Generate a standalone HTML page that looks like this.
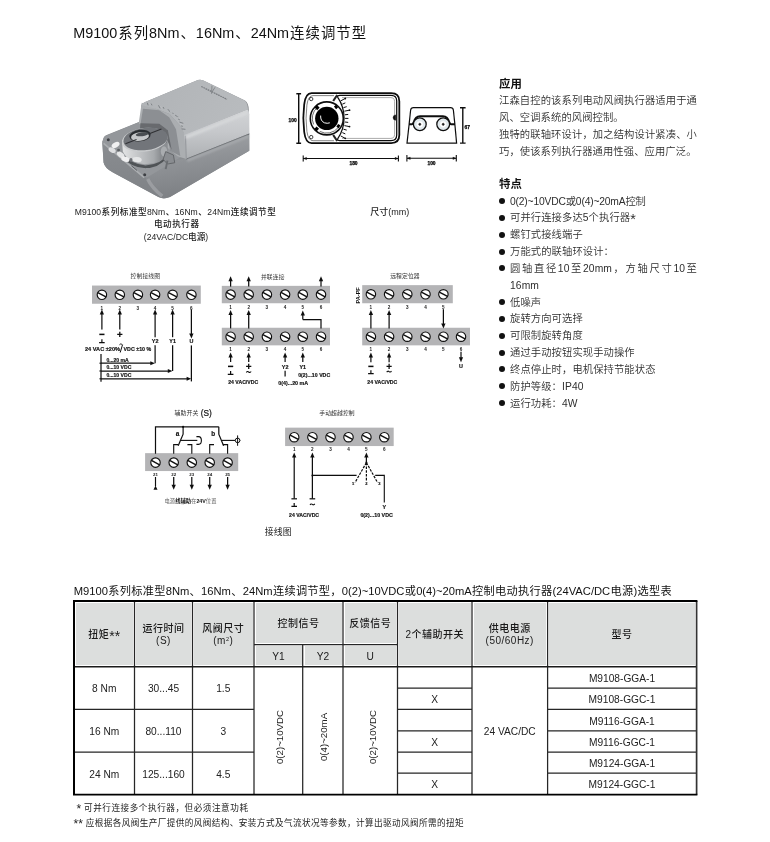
<!DOCTYPE html>
<html lang="zh-CN">
<head>
<meta charset="utf-8">
<title>M9100系列8Nm、16Nm、24Nm连续调节型</title>
<style>
html,body{margin:0;padding:0;background:#fff;}
body{width:770px;height:842px;position:relative;overflow:hidden;opacity:.999;
 font-family:"Liberation Sans","Noto Sans CJK SC",sans-serif;color:#1a1a1a;}
.abs{position:absolute;white-space:nowrap;}
.title{left:73.2px;top:22.6px;width:293px;font-size:14.4px;line-height:20px;font-weight:400;color:#111;text-align:justify;text-align-last:justify;}
.cap{font-size:8.6px;line-height:12.6px;text-align:center;font-weight:500;color:#222;}
.h{font-size:11.4px;font-weight:700;line-height:14px;color:#111;}
.p{font-size:10.3px;line-height:17px;color:#2e2e2e;letter-spacing:.1px;font-weight:350;}
.li{font-size:10.3px;line-height:17px;color:#2e2e2e;letter-spacing:.1px;font-weight:350;}
.li:before{content:"";position:absolute;left:-11.2px;top:5.5px;width:6px;height:6px;border-radius:50%;background:#111;}
/* table */
.tt{left:73.7px;top:582.6px;width:598px;font-size:11.2px;line-height:16px;color:#111;font-weight:400;text-align:justify;text-align-last:justify;}
.fn{font-size:8.6px;line-height:12px;color:#222;text-align:justify;text-align-last:justify;}

.hf{background:#dcdedd;}
.th,.td{display:flex;align-items:center;justify-content:center;text-align:center;white-space:nowrap;box-sizing:border-box;padding-top:3px;}
.th{font-size:10px;line-height:12px;font-weight:500;color:#1a1a1a;letter-spacing:.5px;}
.th.n{font-weight:400;font-size:10.2px;letter-spacing:0;}
.td{font-size:10.2px;line-height:12px;color:#222;}
.th sup{font-size:5.5px;line-height:0;vertical-align:3.2px;}
.rot{display:inline-block;position:relative;transform:rotate(-90deg);white-space:nowrap;letter-spacing:0;font-size:9.7px;}
.cj{font-size:1.4em;line-height:0;vertical-align:-.2em;letter-spacing:0;}
.p,.li{margin-top:.6px;}
</style>
</head>
<body>
<div class="abs title">M9100系列8Nm、16Nm、24Nm连续调节型</div>

<div class="abs cap" style="left:74.8px;width:201px;top:206px;text-align:justify;text-align-last:justify">M9100系列标准型8Nm、16Nm、24Nm连续调节型</div>
<div class="abs cap" style="left:126.8px;width:100px;top:217.8px;letter-spacing:.55px">电动执行器</div>
<div class="abs cap" style="left:126px;width:100px;top:231.1px">(24VAC/DC电源)</div>
<div class="abs cap" style="left:339.8px;width:100px;top:205.7px;font-size:9px">尺寸(mm)</div>
<div class="abs cap" style="left:228.2px;width:100px;top:525.7px;font-weight:400;font-size:8.9px;letter-spacing:.1px;color:#222">接线图</div>
<!-- product photo -->
<svg class="abs" style="left:95px;top:65px" width="165" height="140" viewBox="0 0 770 653">
<defs>
<filter id="pb" x="-5%" y="-5%" width="110%" height="110%"><feGaussianBlur stdDeviation="2.6"/></filter>
<filter id="pb2" x="-10%" y="-10%" width="120%" height="120%"><feGaussianBlur stdDeviation="5"/></filter>
<linearGradient id="gTop" x1="0" y1="0" x2="1" y2=".3"><stop offset="0" stop-color="#b0b3b6"/><stop offset="1" stop-color="#b8bbbe"/></linearGradient>
<linearGradient id="gCR" x1="0" y1="0" x2="0" y2="1"><stop offset="0" stop-color="#d2d4d6"/><stop offset=".45" stop-color="#c6c8cb"/><stop offset="1" stop-color="#adb0b3"/></linearGradient>
<linearGradient id="gBR" x1="0" y1="0" x2=".25" y2="1"><stop offset="0" stop-color="#a6a9ac"/><stop offset=".5" stop-color="#8f9296"/><stop offset="1" stop-color="#7d8084"/></linearGradient>
<linearGradient id="gBL" x1="0" y1="0" x2="0" y2="1"><stop offset="0" stop-color="#8a8d91"/><stop offset="1" stop-color="#7f8286"/></linearGradient>
<linearGradient id="gWall" x1="0" y1="0" x2="1" y2="0"><stop offset="0" stop-color="#e3e4e5"/><stop offset=".35" stop-color="#c4c6c8"/><stop offset=".7" stop-color="#a7aaad"/><stop offset="1" stop-color="#6f7276"/></linearGradient>
</defs>
<g filter="url(#pb)">
<!-- silhouette backing -->
<path d="M40 340 Q42 330 60 324 L214 262 L216 188 Q218 178 234 172 L480 70 Q492 66 506 72 L700 166 Q718 178 718 212 L720 400 L350 616 Q322 628 296 616 L82 500 Q46 482 40 455 L34 366 Z" fill="#8b8e92"/>
<!-- base left/front face -->
<path d="M34 352 L40 455 Q46 482 82 500 L296 616 Q318 626 334 620 Q270 575 236 524 Z" fill="url(#gBL)"/>
<!-- base right-front face -->
<path d="M236 524 L385 442 L424 438 L720 320 L720 400 L350 616 Q325 626 305 610 Q250 566 236 524Z" fill="url(#gBR)"/>
<!-- front corner light band -->
<path d="M246 532 Q264 572 314 612" stroke="#a0a3a6" stroke-width="16" fill="none" opacity=".8"/>
<!-- base top face -->
<path d="M36 352 Q38 334 60 326 L215 262 L400 430 L250 520 Q235 528 222 518 L44 372 Q34 364 36 352Z" fill="#94979b"/>
<path d="M40 366 L230 525" stroke="#abaeb1" stroke-width="8" fill="none"/>
<!-- cover left side (chamfer band) -->
<path d="M218 176 L204 272 L385 426 L426 438 L420 328 L402 288 L348 228 L292 206 L240 182Z" fill="#abaeb1"/>
<!-- arch interior -->
<path d="M224 204 L300 211 L346 244 L378 300 L398 424 L350 400 L335 300 L210 290 Z" fill="#8c8f93"/>
<path d="M212 272 L300 274 L340 304 L358 396 L330 336 L210 300Z" fill="#676a6e"/>
<!-- cover right face -->
<path d="M416 324 L712 206 Q720 214 720 230 L720 320 L426 438 Z" fill="url(#gCR)"/>
<!-- cover top -->
<path d="M216 186 Q218 178 234 172 L480 70 Q492 66 506 72 L696 164 Q712 174 714 206 L418 326 L402 288 L348 228 L292 206 Z" fill="url(#gTop)"/>
<!-- junction dark line -->
<path d="M426 439 L720 322" stroke="#5e6165" stroke-width="4.5" fill="none"/>
<path d="M422 330 L426 436" stroke="#999ca0" stroke-width="6" fill="none"/>
<g transform="translate(0 11)">
<!-- coupling body wall -->
<path d="M126 340 L130 392 Q150 440 232 452 Q318 448 336 396 L338 330Z" fill="url(#gWall)"/>
<path d="M132 404 Q170 452 236 458 Q312 452 336 404 L336 420 Q300 470 230 470 Q160 462 134 420Z" fill="#4f5256"/>
<!-- right boss -->
<path d="M300 360 L338 350 L340 410 L306 432Z" fill="#8b8e92"/>
<ellipse cx="322" cy="392" rx="15" ry="24" fill="#a9acaf"/>
<!-- ring top -->
<ellipse cx="232" cy="338" rx="107" ry="55" transform="rotate(-7 232 338)" fill="#c9cbcd"/>
<ellipse cx="236" cy="334" rx="104" ry="52" transform="rotate(-7 236 334)" fill="#72757a"/>
<g transform="translate(-2 -10)">
<!-- hole -->
<ellipse cx="212" cy="328" rx="50" ry="27" transform="rotate(-7 212 328)" fill="#2c2e31"/>
<ellipse cx="212" cy="333" rx="42" ry="20" transform="rotate(-7 212 333)" fill="#c4c6c8"/>
<ellipse cx="222" cy="322" rx="30" ry="9" transform="rotate(-7 222 322)" fill="#4a4d51"/>
<!-- slits -->
<path d="M144 366 L196 346" stroke="#2f3134" stroke-width="5"/>
<path d="M258 318 L312 298" stroke="#2f3134" stroke-width="5"/>
</g>
<!-- bolts highlights -->
<ellipse cx="96" cy="362" rx="20" ry="12" transform="rotate(-30 96 362)" fill="#f0f0f1"/>
<ellipse cx="80" cy="386" rx="18" ry="11" transform="rotate(30 80 386)" fill="#dedfe1"/>
<ellipse cx="120" cy="408" rx="20" ry="12" transform="rotate(35 120 408)" fill="#e6e7e8"/>
<ellipse cx="142" cy="428" rx="20" ry="12" transform="rotate(20 142 428)" fill="#f0f0f1"/>
<ellipse cx="196" cy="430" rx="22" ry="12" transform="rotate(5 196 430)" fill="#e4e5e6"/>
<ellipse cx="110" cy="386" rx="7" ry="6" fill="#5d6064"/>
<ellipse cx="168" cy="432" rx="7" ry="9" fill="#6d7074"/>
</g>
<!-- lever -->
<path d="M330 404 L366 420 L372 456 L338 462 L318 440Z" fill="#8a8d91" stroke="#5d6064" stroke-width="4"/>
<path d="M338 446 L330 486" stroke="#6a6d71" stroke-width="9"/>
<!-- base details -->
<path d="M170 470 L196 492 M214 468 L236 480" stroke="#4f5256" stroke-width="4"/>
</g>
<g filter="url(#pb2)" opacity=".9">
<path d="M424 338 L712 222" stroke="#d8dadc" stroke-width="14" fill="none"/>
<path d="M430 446 L716 332" stroke="#aaadb0" stroke-width="12" fill="none"/>
</g>
<g filter="url(#pb)">
<!-- screw holes -->
<circle cx="62" cy="349" r="7" fill="#3e4044"/>
<circle cx="232" cy="512" r="7" fill="#3e4044"/>
<!-- scale marks -->
<g stroke="#6f7276" stroke-width="3.6" fill="none">
<path d="M244 176 l4 12 M262 180 l4 8 M296 188 l8 14 M318 196 l4 8 M340 206 l12 14 M360 222 l6 6 M374 234 l16 10 M388 252 l8 4 M394 266 l18 6 M402 284 l8 2 M404 298 l18 2"/>
</g>
<g stroke="#c3c5c8" stroke-width="3" fill="none"><path d="M254 178 l4 8 M306 192 l6 10 M350 214 l8 8 M384 242 l10 6 M398 276 l12 3"/></g>
<!-- logo -->
<path d="M496 100 L616 160" stroke="#7c7f83" stroke-width="6" stroke-dasharray="8 3" fill="none"/>
<path d="M546 96 l-2 38 M560 104 l-14 22" stroke="#7c7f83" stroke-width="4" fill="none"/>
</g>
</svg>
<!-- /product photo -->
<!-- dimensions -->
<svg class="abs" style="left:285px;top:85px" width="195" height="90" viewBox="285 85 195 90" font-family="Liberation Sans, sans-serif">
<defs><filter id="db" x="-5%" y="-5%" width="110%" height="110%"><feGaussianBlur stdDeviation="0.35"/></filter></defs>
<g filter="url(#db)" fill="none" stroke="#111">
<!-- top view -->
<path d="M311.5 93.2 H391.2 Q399.3 93.2 399.3 101.2 V135.1 Q399.3 143.1 391.2 143.1 H311.5 Q305.6 143.1 304.2 132 Q302.4 118.2 304.2 104.4 Q305.6 93.2 311.5 93.2Z" stroke-width="1.8"/>
<path d="M334 95.6 H313 Q308.2 95.6 306.9 105 Q305.2 118.2 306.9 131.4 Q308.2 140.7 313 140.7 H334" stroke-width=".6" stroke="#333"/>
<!-- cover with concave left arc -->
<path d="M340 95.4 H391 Q396.7 95.4 396.7 101 V135 Q396.7 140.6 391 140.6 H340 Q336.8 140.6 337.8 138.6 A37 37 0 0 0 337.8 97.4 Q336.8 95.4 340 95.4Z" stroke-width="1.25" stroke-linejoin="round"/>
<path d="M342 97.6 H390.5 Q394.6 97.6 394.6 101.6 V134.4 Q394.6 138.4 390.5 138.4 H342" stroke-width=".5" stroke="#555"/>
<!-- band lines left of cover -->
<path d="M337.2 95 L333.2 101 M337.2 141 L333.2 135" stroke-width="2.1" stroke="#222"/>
<!-- ticks -->
<g stroke-width="1"><path d="M340.7 100.9 L345.1 98.5 M342.3 104.2 L345.3 102.9 M343.5 107.6 L346.7 106.7 M344.4 111.2 L349.3 110.2 M344.9 114.8 L348.2 114.4 M345.1 118.4 L348.4 118.4 M344.9 122.0 L348.2 122.4 M344.4 125.6 L349.3 126.6 M343.5 129.2 L346.7 130.1 M342.3 132.6 L345.3 133.9 M340.7 135.9 L345.1 138.3"/></g>
<g fill="#111" stroke="none"><circle cx="345.3" cy="98.5" r=".9"/><circle cx="349.5" cy="110.2" r=".9"/><circle cx="349.5" cy="126.6" r=".9"/><circle cx="345.3" cy="138.3" r=".9"/></g>
<!-- shaft circle -->
<circle cx="326.8" cy="118.4" r="16.5" stroke-width="1.6" fill="#fff"/>
<path d="M313.6 124.4 A14.5 14.5 0 0 1 317.3 107.4" stroke-width=".7" stroke="#333"/>
<path d="M319.8 131.4 A14.6 14.6 0 0 0 338.3 127.4" stroke-width=".7" stroke="#333"/>
<circle cx="326.8" cy="118.4" r="11.7" fill="#050505" stroke="none"/>
<path d="M320.6 115.6 Q320.4 121.0 324.4 122.8 Q327.4 123.8 329.8 122.8" stroke="#fff" stroke-width=".95"/>
<!-- lugs -->
<g stroke-width="3.4" stroke="#050505">
<path d="M315.6 106.0 l2.8 3 M315.2 130.4 l2.6 -2.8 M335.0 107.8 l2 -1.6 M337.2 125.4 l2.4 1.4"/>
</g>
<!-- screws -->
<circle cx="311.2" cy="99" r="1.7" stroke-width=".8"/>
<circle cx="311.2" cy="137.1" r="1.7" stroke-width=".8"/>
<!-- dot -->
<path d="M395.8 114.9 A2.7 2.7 0 0 0 395.8 120.3Z" fill="#111" stroke-width=".4"/>
<!-- left dim -->
<path d="M298.7 93.7 V143.2 M296.3 93.7 H301.1 M296.3 143.2 H301.1" stroke-width="1.4"/>
<!-- bottom dim -->
<path d="M303.2 158.5 H398.4 M303.2 155.5 V161.5 M398.4 155.5 V161.5" stroke-width="1.1"/>
<path d="M303.4 158.5 l3.2 -1.2 v2.4z M398.2 158.5 l-3.2 -1.2 v2.4z" fill="#111" stroke-width=".3"/>
<!-- side view -->
<path d="M407 143.1 L409.2 123.6 L410.6 110.2 Q410.9 107.6 413.4 107.6 H450.6 Q453.1 107.6 453.4 110.2 L454.8 123.6 L456.6 143.1 Z" stroke-width="1.2"/>
<path d="M409 124.2 H412 Q413.2 124.2 413.6 122.6 Q415.4 116.2 420 116.2 H443 Q447.6 116.2 449.4 122.6 Q449.8 124.2 451 124.2 H455" stroke-width="2.1"/>
<circle cx="419.8" cy="124.3" r="6.4" stroke-width="1.3" fill="#e1e9ed"/>
<circle cx="443.2" cy="124.3" r="6.4" stroke-width="1.3" fill="#e1e9ed"/>
<circle cx="419.8" cy="124.3" r="3.1" fill="#fff" stroke="none"/>
<circle cx="443.2" cy="124.3" r="3.1" fill="#fff" stroke="none"/>
<circle cx="419.8" cy="124.3" r="1.1" fill="#222" stroke-width=".5"/>
<circle cx="443.2" cy="124.3" r="1.1" fill="#222" stroke-width=".5"/>
<!-- right dim -->
<path d="M462.8 107.8 V143.1 M460 107.8 H465.6 M460 143.1 H465.6" stroke-width="1.4"/>
<!-- bottom dim side -->
<path d="M406.9 158.3 H456.3 M406.9 155.1 V161.5 M456.3 155.1 V161.5" stroke-width="1.1"/>
<path d="M407.1 158.3 l3.2 -1.2 v2.4z M456.1 158.3 l-3.2 -1.2 v2.4z" fill="#111" stroke-width=".3"/>
</g>
<g font-size="4.9" font-weight="700" fill="#000" stroke="#000" stroke-width=".25" text-anchor="middle" filter="url(#db)">
<text x="292.6" y="122.2">100</text>
<text x="353.5" y="164.6">180</text>
<text x="431.5" y="164.6">100</text>
<text x="467.2" y="128.8">67</text>
</g>
</svg>
<!-- /dimensions -->
<!-- right text -->
<div class="abs h" style="left:499px;top:76.7px;">应用</div>
<div class="abs p" style="left:499px;top:91.4px;width:198px;text-align:justify;text-align-last:justify;">江森自控的该系列电动风阀执行器适用于通</div>
<div class="abs p" style="left:499px;top:108.3px;">风、空调系统的风阀控制。</div>
<div class="abs p" style="left:499px;top:125.2px;width:198px;text-align:justify;text-align-last:justify;">独特的联轴环设计，加之结构设计紧凑、小</div>
<div class="abs p" style="left:499px;top:142.1px;">巧，使该系列执行器通用性强、应用广泛。</div>
<div class="abs h" style="left:499px;top:177.3px;">特点</div>
<div class="abs li" style="left:510px;top:192.0px;letter-spacing:-.18px;">0(2)~10VDC或0(4)~20mA控制</div>
<div class="abs li" style="left:510px;top:208.8px;">可并行连接多达5个执行器<span class="cj">*</span></div>
<div class="abs li" style="left:510px;top:225.7px;">螺钉式接线端子</div>
<div class="abs li" style="left:510px;top:242.5px;">万能式的联轴环设计：</div>
<div class="abs li" style="left:510px;top:259.4px;width:187px;text-align:justify;text-align-last:justify;">圆轴直径10至20mm，方轴尺寸10至</div>
<div class="abs p" style="left:510px;top:276.2px;">16mm</div>
<div class="abs li" style="left:510px;top:293.0px;">低噪声</div>
<div class="abs li" style="left:510px;top:309.9px;">旋转方向可选择</div>
<div class="abs li" style="left:510px;top:326.7px;">可限制旋转角度</div>
<div class="abs li" style="left:510px;top:343.6px;">通过手动按钮实现手动操作</div>
<div class="abs li" style="left:510px;top:360.4px;">终点停止时，电机保持节能状态</div>
<div class="abs li" style="left:510px;top:377.2px;">防护等级：IP40</div>
<div class="abs li" style="left:510px;top:394.1px;">运行功耗：4W</div>
<!-- wiring -->
<svg class="abs" style="left:60px;top:265px" width="420" height="260" viewBox="60 265 420 260" font-family="Liberation Sans, Noto Sans CJK SC, sans-serif" fill="#111">
<defs><filter id="wb" x="-2%" y="-2%" width="104%" height="104%"><feGaussianBlur stdDeviation="0.3"/></filter></defs>
<g filter="url(#wb)">
<text x="145.4" y="278.4" font-size="5.8" text-anchor="middle" font-weight="400" fill="#333" letter-spacing="0.12">控制接线图</text>
<rect x="92" y="285.55" width="108.8" height="18.2" fill="#b4b4b6"/>
<circle cx="101.9" cy="294.8" r="4.72" fill="#fff" stroke="#111" stroke-width="1.15"/><path d="M97.84 292.63 L105.96 296.97" stroke="#111" stroke-width="1.45"/>
<circle cx="119.8" cy="294.8" r="4.72" fill="#fff" stroke="#111" stroke-width="1.15"/><path d="M115.74 292.63 L123.86 296.97" stroke="#111" stroke-width="1.45"/>
<circle cx="137.9" cy="294.8" r="4.72" fill="#fff" stroke="#111" stroke-width="1.15"/><path d="M133.84 292.63 L141.96 296.97" stroke="#111" stroke-width="1.45"/>
<circle cx="155.1" cy="294.8" r="4.72" fill="#fff" stroke="#111" stroke-width="1.15"/><path d="M151.04 292.63 L159.16 296.97" stroke="#111" stroke-width="1.45"/>
<circle cx="172.6" cy="294.8" r="4.72" fill="#fff" stroke="#111" stroke-width="1.15"/><path d="M168.54 292.63 L176.66 296.97" stroke="#111" stroke-width="1.45"/>
<circle cx="191.4" cy="294.8" r="4.72" fill="#fff" stroke="#111" stroke-width="1.15"/><path d="M187.34 292.63 L195.46 296.97" stroke="#111" stroke-width="1.45"/>
<text x="101.9" y="309.7" font-size="4.6" text-anchor="middle" font-weight="700" fill="#222">1</text>
<text x="119.8" y="309.7" font-size="4.6" text-anchor="middle" font-weight="700" fill="#222">2</text>
<text x="137.9" y="309.7" font-size="4.6" text-anchor="middle" font-weight="700" fill="#222">3</text>
<text x="155.1" y="309.7" font-size="4.6" text-anchor="middle" font-weight="700" fill="#222">4</text>
<text x="172.6" y="309.7" font-size="4.6" text-anchor="middle" font-weight="700" fill="#222">5</text>
<text x="191.4" y="309.7" font-size="4.6" text-anchor="middle" font-weight="700" fill="#222">6</text>
<path d="M101.9 313.6 V329.5" fill="none" stroke="#111" stroke-width="1.25"/><path d="M101.9 309.6 l2.15 5.0 h-4.3z" fill="#111"/>
<path d="M119.8 313.6 V329.5" fill="none" stroke="#111" stroke-width="1.25"/><path d="M119.8 309.6 l2.15 5.0 h-4.3z" fill="#111"/>
<path d="M99.30000000000001 334.4 H104.5" fill="none" stroke="#111" stroke-width="1.5"/>
<path d="M117.2 334.4 H122.39999999999999 M119.8 331.79999999999995 V337.0" fill="none" stroke="#111" stroke-width="1.3"/>
<path d="M101.9 339.20000000000005 V342.6 M99.10000000000001 342.6 H104.7" fill="none" stroke="#111" stroke-width="1.2"/>
<text x="85" y="350.6" font-size="5.3" text-anchor="start" font-weight="700" stroke="#111" stroke-width=".16" textLength="35" lengthAdjust="spacingAndGlyphs">24 VAC ±20%</text>
<path d="M120.2 352.5 L122.6 344.5" fill="none" stroke="#111" stroke-width="1.0"/>
<path d="M119.4 344.8 q1.4 -1.6 2.6 -.4" fill="none" stroke="#111" stroke-width="0.9"/>
<text x="123.6" y="350.6" font-size="5.3" text-anchor="start" font-weight="700" stroke="#111" stroke-width=".16" textLength="27.6" lengthAdjust="spacingAndGlyphs">VDC ±10 %</text>
<path d="M155.1 313.6 V337.2" fill="none" stroke="#111" stroke-width="1.25"/><path d="M155.1 309.6 l2.15 5.0 h-4.3z" fill="#111"/>
<text x="155.1" y="343.3" font-size="5.4" text-anchor="middle" font-weight="700" stroke="#111" stroke-width=".16" >Y2</text>
<path d="M155.1 345.2 V363.2" fill="none" stroke="#111" stroke-width="1.25"/>
<path d="M172.6 313.6 V337.2" fill="none" stroke="#111" stroke-width="1.25"/><path d="M172.6 309.6 l2.15 5.0 h-4.3z" fill="#111"/>
<text x="172.6" y="343.3" font-size="5.4" text-anchor="middle" font-weight="700" stroke="#111" stroke-width=".16" >Y1</text>
<path d="M172.6 345.2 V371" fill="none" stroke="#111" stroke-width="1.25"/>
<path d="M191.4 309.4 V334.4" fill="none" stroke="#111" stroke-width="1.25"/><path d="M191.4 338.4 l2.15 -5.0 h-4.3z" fill="#111"/>
<text x="191.4" y="343.4" font-size="5.4" text-anchor="middle" font-weight="700" stroke="#111" stroke-width=".16" >U</text>
<path d="M191.4 345.4 V381.4" fill="none" stroke="#111" stroke-width="1.25"/>
<path d="M101 354 V381.8" fill="none" stroke="#111" stroke-width="1.25"/>
<path d="M101 363.2 H151.3" fill="none" stroke="#111" stroke-width="1.25"/><path d="M154.9 363.2 l-4.6 -2.0 v4.0z" fill="#111"/>
<path d="M101 371 H168.8" fill="none" stroke="#111" stroke-width="1.25"/><path d="M172.4 371 l-4.6 -2.0 v4.0z" fill="#111"/>
<path d="M101 378.8 H187.6" fill="none" stroke="#111" stroke-width="1.25"/><path d="M191.20000000000002 378.8 l-4.6 -2.0 v4.0z" fill="#111"/>
<path d="M99.4 363.2 h1.6 M99.4 371 h1.6 M99.4 378.8 h1.6" fill="none" stroke="#111" stroke-width="1.0"/>
<text x="106.4" y="361.8" font-size="5.1" text-anchor="start" font-weight="700" stroke="#111" stroke-width=".16" >0...20 mA</text>
<text x="106.4" y="369.4" font-size="5.1" text-anchor="start" font-weight="700" stroke="#111" stroke-width=".16" >0...10 VDC</text>
<text x="106.4" y="377.2" font-size="5.1" text-anchor="start" font-weight="700" stroke="#111" stroke-width=".16" >0...10 VDC</text>
<text x="272.8" y="278.6" font-size="5.8" text-anchor="middle" font-weight="400" fill="#333" letter-spacing="0.12">并联连接</text>
<rect x="221.8" y="285.85" width="108.2" height="17.4" fill="#b4b4b6"/>
<circle cx="230.6" cy="294.6" r="4.72" fill="#fff" stroke="#111" stroke-width="1.15"/><path d="M226.54 292.43 L234.66 296.77" stroke="#111" stroke-width="1.45"/>
<circle cx="248.7" cy="294.6" r="4.72" fill="#fff" stroke="#111" stroke-width="1.15"/><path d="M244.64 292.43 L252.76 296.77" stroke="#111" stroke-width="1.45"/>
<circle cx="266.9" cy="294.6" r="4.72" fill="#fff" stroke="#111" stroke-width="1.15"/><path d="M262.84 292.43 L270.96 296.77" stroke="#111" stroke-width="1.45"/>
<circle cx="285.1" cy="294.6" r="4.72" fill="#fff" stroke="#111" stroke-width="1.15"/><path d="M281.04 292.43 L289.16 296.77" stroke="#111" stroke-width="1.45"/>
<circle cx="302.8" cy="294.6" r="4.72" fill="#fff" stroke="#111" stroke-width="1.15"/><path d="M298.74 292.43 L306.86 296.77" stroke="#111" stroke-width="1.45"/>
<circle cx="321" cy="294.6" r="4.72" fill="#fff" stroke="#111" stroke-width="1.15"/><path d="M316.94 292.43 L325.06 296.77" stroke="#111" stroke-width="1.45"/>
<path d="M230.6 280.2 V286.6" fill="none" stroke="#111" stroke-width="1.25"/><path d="M230.6 276.2 l2.15 5.0 h-4.3z" fill="#111"/>
<path d="M248.7 280.2 V286.6" fill="none" stroke="#111" stroke-width="1.25"/><path d="M248.7 276.2 l2.15 5.0 h-4.3z" fill="#111"/>
<path d="M321 280.2 V286.6" fill="none" stroke="#111" stroke-width="1.25"/><path d="M321 276.2 l2.15 5.0 h-4.3z" fill="#111"/>
<text x="230.6" y="309.1" font-size="4.6" text-anchor="middle" font-weight="700" fill="#222">1</text>
<text x="248.7" y="309.1" font-size="4.6" text-anchor="middle" font-weight="700" fill="#222">2</text>
<text x="266.9" y="309.1" font-size="4.6" text-anchor="middle" font-weight="700" fill="#222">3</text>
<text x="285.1" y="309.1" font-size="4.6" text-anchor="middle" font-weight="700" fill="#222">4</text>
<text x="302.8" y="309.1" font-size="4.6" text-anchor="middle" font-weight="700" fill="#222">5</text>
<text x="321" y="309.1" font-size="4.6" text-anchor="middle" font-weight="700" fill="#222">6</text>
<rect x="221.8" y="327.75" width="108.2" height="17.6" fill="#b4b4b6"/>
<circle cx="230.6" cy="336.7" r="4.72" fill="#fff" stroke="#111" stroke-width="1.15"/><path d="M226.54 334.53 L234.66 338.87" stroke="#111" stroke-width="1.45"/>
<circle cx="248.7" cy="336.7" r="4.72" fill="#fff" stroke="#111" stroke-width="1.15"/><path d="M244.64 334.53 L252.76 338.87" stroke="#111" stroke-width="1.45"/>
<circle cx="266.9" cy="336.7" r="4.72" fill="#fff" stroke="#111" stroke-width="1.15"/><path d="M262.84 334.53 L270.96 338.87" stroke="#111" stroke-width="1.45"/>
<circle cx="285.1" cy="336.7" r="4.72" fill="#fff" stroke="#111" stroke-width="1.15"/><path d="M281.04 334.53 L289.16 338.87" stroke="#111" stroke-width="1.45"/>
<circle cx="302.8" cy="336.7" r="4.72" fill="#fff" stroke="#111" stroke-width="1.15"/><path d="M298.74 334.53 L306.86 338.87" stroke="#111" stroke-width="1.45"/>
<circle cx="321" cy="336.7" r="4.72" fill="#fff" stroke="#111" stroke-width="1.15"/><path d="M316.94 334.53 L325.06 338.87" stroke="#111" stroke-width="1.45"/>
<path d="M230.6 314.0 V328.4" fill="none" stroke="#111" stroke-width="1.25"/><path d="M230.6 310 l2.15 5.0 h-4.3z" fill="#111"/>
<path d="M248.7 314.0 V328.4" fill="none" stroke="#111" stroke-width="1.25"/><path d="M248.7 310 l2.15 5.0 h-4.3z" fill="#111"/>
<path d="M302.8 314.6 V319.6" fill="none" stroke="#111" stroke-width="1.25"/><path d="M302.8 310.6 l2.15 5.0 h-4.3z" fill="#111"/>
<path d="M302.8 319.6 H321 V328.4" fill="none" stroke="#111" stroke-width="1.25"/>
<text x="230.6" y="351.3" font-size="4.6" text-anchor="middle" font-weight="700" fill="#222">1</text>
<text x="248.7" y="351.3" font-size="4.6" text-anchor="middle" font-weight="700" fill="#222">2</text>
<text x="266.9" y="351.3" font-size="4.6" text-anchor="middle" font-weight="700" fill="#222">3</text>
<text x="285.1" y="351.3" font-size="4.6" text-anchor="middle" font-weight="700" fill="#222">4</text>
<text x="302.8" y="351.3" font-size="4.6" text-anchor="middle" font-weight="700" fill="#222">5</text>
<text x="321" y="351.3" font-size="4.6" text-anchor="middle" font-weight="700" fill="#222">6</text>
<path d="M230.6 356.6 V362" fill="none" stroke="#111" stroke-width="1.25"/><path d="M230.6 352.6 l2.15 5.0 h-4.3z" fill="#111"/>
<path d="M248.7 356.6 V362" fill="none" stroke="#111" stroke-width="1.25"/><path d="M248.7 352.6 l2.15 5.0 h-4.3z" fill="#111"/>
<path d="M285.1 356.6 V362" fill="none" stroke="#111" stroke-width="1.25"/><path d="M285.1 352.6 l2.15 5.0 h-4.3z" fill="#111"/>
<path d="M302.8 356.6 V362" fill="none" stroke="#111" stroke-width="1.25"/><path d="M302.8 352.6 l2.15 5.0 h-4.3z" fill="#111"/>
<path d="M228.0 366.4 H233.2" fill="none" stroke="#111" stroke-width="1.5"/>
<path d="M246.1 366.4 H251.29999999999998 M248.7 363.79999999999995 V369.0" fill="none" stroke="#111" stroke-width="1.3"/>
<path d="M230.6 371.0 V374.4 M227.79999999999998 374.4 H233.4" fill="none" stroke="#111" stroke-width="1.2"/>
<path d="M246.29999999999998 372.5 q1.2 -1.6 2.4 -.5 t2.4 -.5" fill="none" stroke="#111" stroke-width="1.1"/>
<text x="228.2" y="384.2" font-size="5.3" text-anchor="start" font-weight="700" stroke="#111" stroke-width=".16" textLength="30" lengthAdjust="spacingAndGlyphs">24 VAC/VDC</text>
<text x="285.1" y="369.3" font-size="5.4" text-anchor="middle" font-weight="700" stroke="#111" stroke-width=".16" >Y2</text>
<path d="M285.1 370.8 V376.6" fill="none" stroke="#111" stroke-width="1.25"/>
<text x="278.2" y="384.6" font-size="5.3" text-anchor="start" font-weight="700" stroke="#111" stroke-width=".16" textLength="30" lengthAdjust="spacingAndGlyphs">0(4)...20 mA</text>
<text x="302.8" y="368.6" font-size="5.4" text-anchor="middle" font-weight="700" stroke="#111" stroke-width=".16" >Y1</text>
<text x="298.2" y="376.9" font-size="5.3" text-anchor="start" font-weight="700" stroke="#111" stroke-width=".16" textLength="32" lengthAdjust="spacingAndGlyphs">0(2)...10 VDC</text>
<text x="405" y="278.4" font-size="5.8" text-anchor="middle" font-weight="400" fill="#333" letter-spacing="0.12">远程定位器</text>
<rect x="362.2" y="285.15000000000003" width="90.6" height="18.1" fill="#b4b4b6"/>
<circle cx="370.9" cy="294.3" r="4.72" fill="#fff" stroke="#111" stroke-width="1.15"/><path d="M366.84 292.13 L374.96 296.47" stroke="#111" stroke-width="1.45"/>
<circle cx="389.1" cy="294.3" r="4.72" fill="#fff" stroke="#111" stroke-width="1.15"/><path d="M385.04 292.13 L393.16 296.47" stroke="#111" stroke-width="1.45"/>
<circle cx="407.3" cy="294.3" r="4.72" fill="#fff" stroke="#111" stroke-width="1.15"/><path d="M403.24 292.13 L411.36 296.47" stroke="#111" stroke-width="1.45"/>
<circle cx="425.5" cy="294.3" r="4.72" fill="#fff" stroke="#111" stroke-width="1.15"/><path d="M421.44 292.13 L429.56 296.47" stroke="#111" stroke-width="1.45"/>
<circle cx="443.4" cy="294.3" r="4.72" fill="#fff" stroke="#111" stroke-width="1.15"/><path d="M439.34 292.13 L447.46 296.47" stroke="#111" stroke-width="1.45"/>
<text transform="translate(360.2 295.4) rotate(-90)" font-size="5.6" text-anchor="middle" font-weight="700">PA-PF</text>
<text x="370.9" y="308.7" font-size="4.6" text-anchor="middle" font-weight="700" fill="#222">1</text>
<text x="389.1" y="308.7" font-size="4.6" text-anchor="middle" font-weight="700" fill="#222">2</text>
<text x="407.3" y="308.7" font-size="4.6" text-anchor="middle" font-weight="700" fill="#222">3</text>
<text x="425.5" y="308.7" font-size="4.6" text-anchor="middle" font-weight="700" fill="#222">4</text>
<text x="443.4" y="308.7" font-size="4.6" text-anchor="middle" font-weight="700" fill="#222">5</text>
<rect x="362.2" y="327.75" width="107.8" height="17.6" fill="#b4b4b6"/>
<circle cx="370.9" cy="336.7" r="4.72" fill="#fff" stroke="#111" stroke-width="1.15"/><path d="M366.84 334.53 L374.96 338.87" stroke="#111" stroke-width="1.45"/>
<circle cx="389.1" cy="336.7" r="4.72" fill="#fff" stroke="#111" stroke-width="1.15"/><path d="M385.04 334.53 L393.16 338.87" stroke="#111" stroke-width="1.45"/>
<circle cx="407.3" cy="336.7" r="4.72" fill="#fff" stroke="#111" stroke-width="1.15"/><path d="M403.24 334.53 L411.36 338.87" stroke="#111" stroke-width="1.45"/>
<circle cx="425.5" cy="336.7" r="4.72" fill="#fff" stroke="#111" stroke-width="1.15"/><path d="M421.44 334.53 L429.56 338.87" stroke="#111" stroke-width="1.45"/>
<circle cx="443.4" cy="336.7" r="4.72" fill="#fff" stroke="#111" stroke-width="1.15"/><path d="M439.34 334.53 L447.46 338.87" stroke="#111" stroke-width="1.45"/>
<circle cx="461" cy="336.7" r="4.72" fill="#fff" stroke="#111" stroke-width="1.15"/><path d="M456.94 334.53 L465.06 338.87" stroke="#111" stroke-width="1.45"/>
<path d="M370.9 314.0 V328.4" fill="none" stroke="#111" stroke-width="1.25"/><path d="M370.9 310 l2.15 5.0 h-4.3z" fill="#111"/>
<path d="M389.1 314.0 V328.4" fill="none" stroke="#111" stroke-width="1.25"/><path d="M389.1 310 l2.15 5.0 h-4.3z" fill="#111"/>
<path d="M443.4 309.2 V324.6" fill="none" stroke="#111" stroke-width="1.25"/><path d="M443.4 328.6 l2.15 -5.0 h-4.3z" fill="#111"/>
<text x="370.9" y="351.1" font-size="4.6" text-anchor="middle" font-weight="700" fill="#222">1</text>
<text x="389.1" y="351.1" font-size="4.6" text-anchor="middle" font-weight="700" fill="#222">2</text>
<text x="407.3" y="351.1" font-size="4.6" text-anchor="middle" font-weight="700" fill="#222">3</text>
<text x="425.5" y="351.1" font-size="4.6" text-anchor="middle" font-weight="700" fill="#222">4</text>
<text x="443.4" y="351.1" font-size="4.6" text-anchor="middle" font-weight="700" fill="#222">5</text>
<text x="461" y="351.1" font-size="4.6" text-anchor="middle" font-weight="700" fill="#222">6</text>
<path d="M370.9 356.6 V362.2" fill="none" stroke="#111" stroke-width="1.25"/><path d="M370.9 352.6 l2.15 5.0 h-4.3z" fill="#111"/>
<path d="M389.1 356.6 V362.2" fill="none" stroke="#111" stroke-width="1.25"/><path d="M389.1 352.6 l2.15 5.0 h-4.3z" fill="#111"/>
<path d="M461 351.8 V358.2" fill="none" stroke="#111" stroke-width="1.25"/><path d="M461 362.2 l2.15 -5.0 h-4.3z" fill="#111"/>
<text x="461" y="368.4" font-size="5.4" text-anchor="middle" font-weight="700" stroke="#111" stroke-width=".16" >U</text>
<path d="M368.29999999999995 366.4 H373.5" fill="none" stroke="#111" stroke-width="1.5"/>
<path d="M386.5 366.4 H391.70000000000005 M389.1 363.79999999999995 V369.0" fill="none" stroke="#111" stroke-width="1.3"/>
<path d="M370.9 370.20000000000005 V373.6 M368.09999999999997 373.6 H373.7" fill="none" stroke="#111" stroke-width="1.2"/>
<path d="M386.70000000000005 372.1 q1.2 -1.6 2.4 -.5 t2.4 -.5" fill="none" stroke="#111" stroke-width="1.1"/>
<text x="367.3" y="384.2" font-size="5.3" text-anchor="start" font-weight="700" stroke="#111" stroke-width=".16" textLength="30" lengthAdjust="spacingAndGlyphs">24 VAC/VDC</text>
<text x="174.6" y="414.8" font-size="5.9" text-anchor="start" font-weight="400" fill="#333" letter-spacing=".05">辅助开关</text>
<text x="200.8" y="415.8" font-size="8.3" text-anchor="start" font-weight="400" fill="#111" stroke="#111" stroke-width=".2">(S)</text>
<rect x="145.1" y="453.15000000000003" width="93.1" height="17.9" fill="#b4b4b6"/>
<circle cx="155.5" cy="462.6" r="4.72" fill="#fff" stroke="#111" stroke-width="1.15"/><path d="M151.44 460.43 L159.56 464.77" stroke="#111" stroke-width="1.45"/>
<circle cx="173.7" cy="462.6" r="4.72" fill="#fff" stroke="#111" stroke-width="1.15"/><path d="M169.64 460.43 L177.76 464.77" stroke="#111" stroke-width="1.45"/>
<circle cx="191.8" cy="462.6" r="4.72" fill="#fff" stroke="#111" stroke-width="1.15"/><path d="M187.74 460.43 L195.86 464.77" stroke="#111" stroke-width="1.45"/>
<circle cx="209.7" cy="462.6" r="4.72" fill="#fff" stroke="#111" stroke-width="1.15"/><path d="M205.64 460.43 L213.76 464.77" stroke="#111" stroke-width="1.45"/>
<circle cx="227.6" cy="462.6" r="4.72" fill="#fff" stroke="#111" stroke-width="1.15"/><path d="M223.54 460.43 L231.66 464.77" stroke="#111" stroke-width="1.45"/>
<path d="M155.5 453.8 V426.8 H218.8" fill="none" stroke="#111" stroke-width="1.2"/>
<circle cx="183.1" cy="426.8" r="1.1" fill="#111"/>
<path d="M183.1 426.8 V434.2 L178.2 445.8" fill="none" stroke="#111" stroke-width="1.2"/>
<text x="177.6" y="435.6" font-size="6.4" text-anchor="middle" font-weight="700" stroke="#111" stroke-width=".16" >a</text>
<path d="M173.7 453.8 V444.6 H178" fill="none" stroke="#111" stroke-width="1.1"/>
<path d="M191.8 453.8 V444.6 H187.4" fill="none" stroke="#111" stroke-width="1.1"/>
<path d="M181 440.4 H197.3" fill="none" stroke="#111" stroke-width="1.1"/>
<path d="M196.4 436.6 H198.6 Q201.4 436.8 201.4 440.5 Q201.4 444.2 198.6 444.4 H196.4" fill="none" stroke="#111" stroke-width="1.1"/>
<path d="M218.8 426.8 V434.2 L223.6 445.8" fill="none" stroke="#111" stroke-width="1.2"/>
<text x="213.2" y="435.6" font-size="6.4" text-anchor="middle" font-weight="700" stroke="#111" stroke-width=".16" >b</text>
<path d="M209.7 453.8 V444.6 H214" fill="none" stroke="#111" stroke-width="1.1"/>
<path d="M227.6 453.8 V444.6 H222.8" fill="none" stroke="#111" stroke-width="1.1"/>
<path d="M221.4 440.4 H240.2" fill="none" stroke="#111" stroke-width="1.1"/>
<circle cx="237.6" cy="440.4" r="2.3" fill="#fff" stroke="#111" stroke-width="1"/>
<path d="M237.6 435.4 V445.8" fill="none" stroke="#111" stroke-width="1.0"/>
<text x="155.5" y="476.1" font-size="4.4" text-anchor="middle" font-weight="700" fill="#222">21</text>
<text x="173.7" y="476.1" font-size="4.4" text-anchor="middle" font-weight="700" fill="#222">22</text>
<text x="191.8" y="476.1" font-size="4.4" text-anchor="middle" font-weight="700" fill="#222">23</text>
<text x="209.7" y="476.1" font-size="4.4" text-anchor="middle" font-weight="700" fill="#222">24</text>
<text x="227.6" y="476.1" font-size="4.4" text-anchor="middle" font-weight="700" fill="#222">25</text>
<path d="M155.5 477 V486" fill="none" stroke="#111" stroke-width="1.15"/>
<path d="M155.5 485.4 l2 4.4 h-4z" fill="#111"/>
<path d="M173.7 477 V485.8" fill="none" stroke="#111" stroke-width="1.25"/><path d="M173.7 489.8 l2.15 -5.0 h-4.3z" fill="#111"/>
<path d="M191.8 477 V485.8" fill="none" stroke="#111" stroke-width="1.25"/><path d="M191.8 489.8 l2.15 -5.0 h-4.3z" fill="#111"/>
<path d="M209.7 477 V485.8" fill="none" stroke="#111" stroke-width="1.25"/><path d="M209.7 489.8 l2.15 -5.0 h-4.3z" fill="#111"/>
<path d="M227.6 477 V485.8" fill="none" stroke="#111" stroke-width="1.25"/><path d="M227.6 489.8 l2.15 -5.0 h-4.3z" fill="#111"/>
<text x="164.5" y="502.6" font-size="5.4" text-anchor="start" font-weight="700" textLength="52" lengthAdjust="spacingAndGlyphs"><tspan fill="#666" font-weight="400">电源</tspan>线辅助<tspan fill="#666" font-weight="400">在</tspan>24V<tspan fill="#666" font-weight="400">位置</tspan></text>
<text x="337" y="415.2" font-size="5.8" text-anchor="middle" font-weight="400" fill="#333" letter-spacing="0.12">手动超越控制</text>
<rect x="285.1" y="427.65000000000003" width="108.6" height="18.4" fill="#b4b4b6"/>
<circle cx="294.2" cy="437.2" r="4.72" fill="#fff" stroke="#111" stroke-width="1.15"/><path d="M290.14 435.03 L298.26 439.37" stroke="#111" stroke-width="1.45"/>
<circle cx="312.4" cy="437.2" r="4.72" fill="#fff" stroke="#111" stroke-width="1.15"/><path d="M308.34 435.03 L316.46 439.37" stroke="#111" stroke-width="1.45"/>
<circle cx="330.5" cy="437.2" r="4.72" fill="#fff" stroke="#111" stroke-width="1.15"/><path d="M326.44 435.03 L334.56 439.37" stroke="#111" stroke-width="1.45"/>
<circle cx="348.5" cy="437.2" r="4.72" fill="#fff" stroke="#111" stroke-width="1.15"/><path d="M344.44 435.03 L352.56 439.37" stroke="#111" stroke-width="1.45"/>
<circle cx="366.4" cy="437.2" r="4.72" fill="#fff" stroke="#111" stroke-width="1.15"/><path d="M362.34 435.03 L370.46 439.37" stroke="#111" stroke-width="1.45"/>
<circle cx="384.3" cy="437.2" r="4.72" fill="#fff" stroke="#111" stroke-width="1.15"/><path d="M380.24 435.03 L388.36 439.37" stroke="#111" stroke-width="1.45"/>
<text x="294.2" y="450.9" font-size="4.6" text-anchor="middle" font-weight="700" fill="#222">1</text>
<text x="312.4" y="450.9" font-size="4.6" text-anchor="middle" font-weight="700" fill="#222">2</text>
<text x="330.5" y="450.9" font-size="4.6" text-anchor="middle" font-weight="700" fill="#222">3</text>
<text x="348.5" y="450.9" font-size="4.6" text-anchor="middle" font-weight="700" fill="#222">4</text>
<text x="366.4" y="450.9" font-size="4.6" text-anchor="middle" font-weight="700" fill="#222">5</text>
<text x="384.3" y="450.9" font-size="4.6" text-anchor="middle" font-weight="700" fill="#222">6</text>
<path d="M294.2 456.6 V498.6" fill="none" stroke="#111" stroke-width="1.25"/><path d="M294.2 452.6 l2.15 5.0 h-4.3z" fill="#111"/>
<path d="M291.4 498.8 h5.6" fill="none" stroke="#111" stroke-width="1.2"/>
<path d="M294.2 503.0 V506.4 M291.4 506.4 H297.0" fill="none" stroke="#111" stroke-width="1.2"/>
<path d="M312.4 456.6 V498.6" fill="none" stroke="#111" stroke-width="1.25"/><path d="M312.4 452.6 l2.15 5.0 h-4.3z" fill="#111"/>
<path d="M309.59999999999997 498.8 h5.6" fill="none" stroke="#111" stroke-width="1.2"/>
<path d="M310.0 504.9 q1.2 -1.6 2.4 -.5 t2.4 -.5" fill="none" stroke="#111" stroke-width="1.1"/>
<circle cx="312.4" cy="475.4" r="1" fill="#111"/>
<path d="M312.4 475.4 H356.6" fill="none" stroke="#111" stroke-width="1.1"/>
<path d="M366.4 456.6 V462.4" fill="none" stroke="#111" stroke-width="1.25"/><path d="M366.4 452.6 l2.15 5.0 h-4.3z" fill="#111"/>
<circle cx="366.4" cy="462.6" r="1" fill="#111"/>
<g fill="none" stroke="#111" stroke-width="1.2" stroke-dasharray="2.6 1.2"><path d="M366.4 462.6 L355 482.6 M366.4 462.6 V480.4 M366.4 462.6 L377.6 482.6"/></g>
<text x="353.2" y="484.6" font-size="4" text-anchor="middle" font-weight="700" stroke="#111" stroke-width=".16" >1</text>
<text x="366.4" y="484.8" font-size="4" text-anchor="middle" font-weight="700" stroke="#111" stroke-width=".16" >2</text>
<text x="379.4" y="484.6" font-size="4" text-anchor="middle" font-weight="700" stroke="#111" stroke-width=".16" >3</text>
<path d="M375.2 475.4 H384.3 V502.4" fill="none" stroke="#111" stroke-width="1.1"/>
<text x="384.3" y="509" font-size="5.4" text-anchor="middle" font-weight="700" stroke="#111" stroke-width=".16" >Y</text>
<text x="289.1" y="517.4" font-size="5.3" text-anchor="start" font-weight="700" stroke="#111" stroke-width=".16" textLength="30" lengthAdjust="spacingAndGlyphs">24 VAC/VDC</text>
<text x="360.4" y="517.4" font-size="5.3" text-anchor="start" font-weight="700" stroke="#111" stroke-width=".16" textLength="32.4" lengthAdjust="spacingAndGlyphs">0(2)...10 VDC</text>
</g>
</svg>
<!-- /wiring -->
<!-- table -->
<div class="abs tt">M9100系列标准型8Nm、16Nm、24Nm连续调节型，0(2)~10VDC或0(4)~20mA控制电动执行器(24VAC/DC电源)选型表</div>
<div class="abs hf" style="left:75.8px;top:602.8px;width:57.3px;height:62.3px"></div>
<div class="abs hf" style="left:136.3px;top:602.8px;width:54.8px;height:62.3px"></div>
<div class="abs hf" style="left:194.3px;top:602.8px;width:58.3px;height:62.3px"></div>
<div class="abs hf" style="left:255.8px;top:602.8px;width:85.8px;height:40.3px"></div>
<div class="abs hf" style="left:255.8px;top:646.3px;width:45.8px;height:18.8px"></div>
<div class="abs hf" style="left:304.8px;top:646.3px;width:36.8px;height:18.8px"></div>
<div class="abs hf" style="left:344.8px;top:602.8px;width:51.3px;height:40.3px"></div>
<div class="abs hf" style="left:344.8px;top:646.3px;width:51.3px;height:18.8px"></div>
<div class="abs hf" style="left:399.3px;top:602.8px;width:71.3px;height:62.3px"></div>
<div class="abs hf" style="left:473.8px;top:602.8px;width:72.3px;height:62.3px"></div>
<div class="abs hf" style="left:549.3px;top:602.8px;width:145.8px;height:62.3px"></div>
<svg class="abs" style="left:70px;top:597px" width="632" height="202" viewBox="70 597 632 202" fill="none">
<path d="M134.5 601 V794.6 M192.5 601 V794.6 M254 601 V794.6 M343 601 V794.6 M397.5 601 V794.6 M472 601 V794.6 M547.6 601 V794.6 M302.7 644.6 V794.6 M254 644.6 H397.5 M74 709.3 H254 M74 752 H254 M397.5 688 H472 M547.6 688 H696.6 M397.5 709.3 H472 M547.6 709.3 H696.6 M397.5 730.8 H472 M547.6 730.8 H696.6 M397.5 752 H472 M547.6 752 H696.6 M397.5 773 H472 M547.6 773 H696.6" stroke="#262626" stroke-width="1.25"/>
<path d="M74 666.7 H696.6" stroke="#1a1a1a" stroke-width="1.45"/>
<path d="M696.6 601 V794.6" stroke="#333" stroke-width="1.7"/>
<path d="M73 601 H697.4" stroke="#000" stroke-width="2"/>
<path d="M73 794.6 H697.4" stroke="#000" stroke-width="1.8"/>
<path d="M74 601 V794.6" stroke="#000" stroke-width="2"/>
</svg>
<div class="abs th" style="left:74.0px;top:601.0px;width:60.5px;height:65.5px"><span>扭矩<span class="cj">**</span></span></div>
<div class="abs th" style="left:134.5px;top:601.0px;width:58.0px;height:65.5px"><span>运行时间<br>(S)</span></div>
<div class="abs th" style="left:192.5px;top:601.0px;width:61.5px;height:65.5px"><span>风阀尺寸<br>(m<sup>2</sup>)</span></div>
<div class="abs th" style="left:254.0px;top:601.0px;width:89.0px;height:43.5px"><span>控制信号</span></div>
<div class="abs th n" style="left:254.0px;top:644.5px;width:49.0px;height:22.0px"><span>Y1</span></div>
<div class="abs th n" style="left:303.0px;top:644.5px;width:40.0px;height:22.0px"><span>Y2</span></div>
<div class="abs th" style="left:343.0px;top:601.0px;width:54.5px;height:43.5px"><span>反馈信号</span></div>
<div class="abs th n" style="left:343.0px;top:644.5px;width:54.5px;height:22.0px"><span>U</span></div>
<div class="abs th" style="left:397.5px;top:601.0px;width:74.5px;height:65.5px"><span>2个辅助开关</span></div>
<div class="abs th" style="left:472.0px;top:601.0px;width:75.5px;height:65.5px"><span>供电电源<br>(50/60Hz)</span></div>
<div class="abs th" style="left:547.5px;top:601.0px;width:149.0px;height:65.5px"><span>型号</span></div>
<div class="abs td" style="left:74.0px;top:666.5px;width:60.5px;height:42.8px"><span>8 Nm</span></div>
<div class="abs td" style="left:134.5px;top:666.5px;width:58.0px;height:42.8px"><span>30...45</span></div>
<div class="abs td" style="left:192.5px;top:666.5px;width:61.5px;height:42.8px"><span>1.5</span></div>
<div class="abs td" style="left:74.0px;top:709.3px;width:60.5px;height:42.7px"><span>16 Nm</span></div>
<div class="abs td" style="left:134.5px;top:709.3px;width:58.0px;height:42.7px"><span>80...110</span></div>
<div class="abs td" style="left:192.5px;top:709.3px;width:61.5px;height:42.7px"><span>3</span></div>
<div class="abs td" style="left:74.0px;top:752.0px;width:60.5px;height:42.5px"><span>24 Nm</span></div>
<div class="abs td" style="left:134.5px;top:752.0px;width:58.0px;height:42.5px"><span>125...160</span></div>
<div class="abs td" style="left:192.5px;top:752.0px;width:61.5px;height:42.5px"><span>4.5</span></div>
<div class="abs td" style="left:254.0px;top:666.5px;width:49.0px;height:128.0px"><span class="rot" style="left:1.5px;top:4.6px">0(2)~10VDC</span></div>
<div class="abs td" style="left:303.0px;top:666.5px;width:40.0px;height:128.0px"><span class="rot" style="left:1.0px;top:4.6px">0(4)~20mA</span></div>
<div class="abs td" style="left:343.0px;top:666.5px;width:54.5px;height:128.0px"><span class="rot" style="left:2.5px;top:4.6px">0(2)~10VDC</span></div>
<div class="abs td" style="left:472.0px;top:666.5px;width:75.5px;height:128.0px"><span>24 VAC/DC</span></div>
<div class="abs td" style="left:547.5px;top:666.5px;width:149.0px;height:21.5px"><span>M9108-GGA-1</span></div>
<div class="abs td" style="left:547.5px;top:688.0px;width:149.0px;height:21.3px"><span>M9108-GGC-1</span></div>
<div class="abs td" style="left:397.5px;top:688.0px;width:74.5px;height:21.3px"><span>X</span></div>
<div class="abs td" style="left:547.5px;top:709.3px;width:149.0px;height:21.5px"><span>M9116-GGA-1</span></div>
<div class="abs td" style="left:547.5px;top:730.8px;width:149.0px;height:21.2px"><span>M9116-GGC-1</span></div>
<div class="abs td" style="left:397.5px;top:730.8px;width:74.5px;height:21.2px"><span>X</span></div>
<div class="abs td" style="left:547.5px;top:752.0px;width:149.0px;height:21.0px"><span>M9124-GGA-1</span></div>
<div class="abs td" style="left:547.5px;top:773.0px;width:149.0px;height:21.5px"><span>M9124-GGC-1</span></div>
<div class="abs td" style="left:397.5px;top:773.0px;width:74.5px;height:21.5px"><span>X</span></div>
<div class="abs fn" style="left:76.4px;top:801.8px;width:171.6px"><span class="cj">*</span> 可并行连接多个执行器，但必须注意功耗</div>
<div class="abs fn" style="left:73.6px;top:816.6px;width:390px"><span class="cj">**</span> 应根据各风阀生产厂提供的风阀结构、安装方式及气流状况等参数，计算出驱动风阀所需的扭矩</div>

</body>
</html>
